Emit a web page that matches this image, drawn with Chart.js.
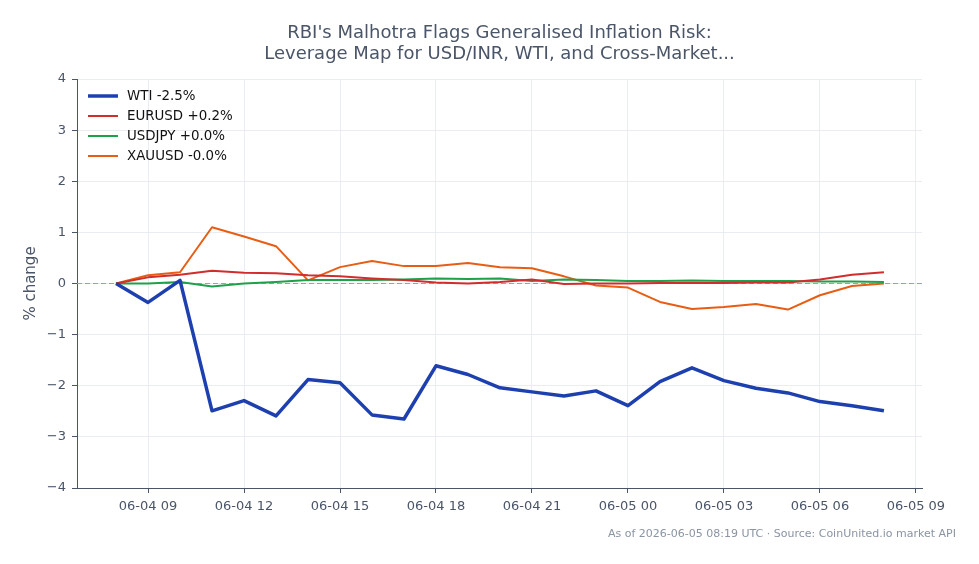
<!DOCTYPE html>
<html>
<head>
<meta charset="utf-8">
<script src="https://cdn.jsdelivr.net/npm/chart.js@4"></script>
<style>
  html, body { margin: 0; padding: 0; background: #ffffff; }
  #wrap { width: 979px; height: 564px; }
</style>
</head>
<body>
<div id="wrap"><canvas id="chart" width="979" height="564"></canvas></div>
<script>
// hours since 06-04 00:00 UTC
var hours = [8, 9, 10, 11, 12, 13, 14, 15, 16, 17, 18, 19, 20, 21, 22, 23, 24, 25, 26, 27, 28, 29, 30, 31, 32];
var tickHours = [9, 12, 15, 18, 21, 24, 27, 30, 33];
var yTicks = [-4, -3, -2, -1, 0, 1, 2, 3, 4];

var wti    = [0, -0.37, 0.06, -2.49, -2.29, -2.59, -1.88, -1.94, -2.57, -2.65, -1.61, -1.78, -2.04, -2.12, -2.2, -2.1, -2.39, -1.92, -1.65, -1.9, -2.05, -2.14, -2.31, -2.39, -2.49];
var eurusd = [0, 0.12, 0.17, 0.25, 0.21, 0.2, 0.16, 0.14, 0.1, 0.07, 0.02, 0.0, 0.03, 0.08, -0.01, 0.0, 0.0, 0.01, 0.01, 0.01, 0.02, 0.02, 0.08, 0.17, 0.22];
var usdjpy = [0, 0.0, 0.03, -0.06, 0.0, 0.03, 0.07, 0.07, 0.07, 0.08, 0.1, 0.09, 0.1, 0.05, 0.08, 0.07, 0.05, 0.05, 0.06, 0.05, 0.05, 0.05, 0.04, 0.04, 0.03];
var xauusd = [0, 0.16, 0.22, 1.1, 0.92, 0.73, 0.06, 0.32, 0.44, 0.34, 0.34, 0.4, 0.32, 0.3, 0.14, -0.04, -0.08, -0.36, -0.5, -0.46, -0.4, -0.51, -0.23, -0.05, 0.0];

var seriesNames = ['WTI -2.5%', 'EURUSD +0.2%', 'USDJPY +0.0%', 'XAUUSD -0.0%'];
var titleLines = ["RBI's Malhotra Flags Generalised Inflation Risk:", "Leverage Map for USD/INR, WTI, and Cross-Market..."];
var footerText = 'As of 2026-06-05 08:19 UTC \u00b7 Source: CoinUnited.io market API';

var FONT = "'DejaVu Sans', sans-serif";
var TEXT = '#4a5568';

function pts(vals) {
  return vals.map(function (v, i) { return { x: hours[i], y: v }; });
}

function hourLabel(h) {
  var day = 4 + Math.floor(h / 24);
  var hh = h % 24;
  return '06-0' + day + ' ' + (hh < 10 ? '0' + hh : hh);
}

var decor = {
  id: 'decor',
  beforeDatasetsDraw: function (chart) {
    var ctx = chart.ctx, a = chart.chartArea, y0 = chart.scales.y.getPixelForValue(0);
    ctx.save();
    ctx.strokeStyle = '#94a3b8';
    ctx.lineWidth = 1;
    ctx.setLineDash([5, 3]);
    ctx.beginPath();
    ctx.moveTo(a.left, y0);
    ctx.lineTo(a.right, y0);
    ctx.stroke();
    ctx.restore();
  },
  afterDraw: function (chart) {
    var ctx = chart.ctx, a = chart.chartArea;
    ctx.save();
    // title
    ctx.fillStyle = TEXT;
    ctx.font = '18px ' + FONT;
    ctx.textAlign = 'center';
    ctx.textBaseline = 'middle';
    var cx = (a.left + a.right) / 2;
    ctx.fillText(titleLines[0], cx, 33);
    ctx.fillText(titleLines[1], cx, 54);
    // footer
    ctx.fillStyle = '#8a94a3';
    ctx.font = '11px ' + FONT;
    ctx.textAlign = 'right';
    ctx.fillText(footerText, 956, 534);
    // legend inside plot
    ctx.textAlign = 'left';
    ctx.font = '13.4px ' + FONT;
    chart.data.datasets.forEach(function (ds, i) {
      var y = 96 + i * 20;
      ctx.strokeStyle = ds.borderColor;
      ctx.lineWidth = ds.borderWidth;
      ctx.beginPath();
      ctx.moveTo(a.left + 11, y);
      ctx.lineTo(a.left + 41, y);
      ctx.stroke();
      ctx.fillStyle = '#111111';
      ctx.fillText(ds.label, a.left + 50, y + 1);
    });
    ctx.restore();
  }
};

var chart = new Chart(document.getElementById('chart').getContext('2d'), {
  type: 'line',
  data: {
    datasets: [
      { label: seriesNames[0], data: pts(wti), borderColor: '#1e40af', borderWidth: 3.5 },
      { label: seriesNames[1], data: pts(eurusd), borderColor: '#d12d2d', borderWidth: 2 },
      { label: seriesNames[2], data: pts(usdjpy), borderColor: '#1fa04a', borderWidth: 2 },
      { label: seriesNames[3], data: pts(xauusd), borderColor: '#e85d14', borderWidth: 2 }
    ].map(function (d) {
      d.fill = false;
      d.tension = 0;
      d.pointRadius = 0;
      d.borderJoinStyle = 'round';
      return d;
    }).reverse()
  },
  plugins: [decor],
  options: {
    responsive: false,
    animation: false,
    layout: { padding: { left: 0, right: 57, top: 79, bottom: 0 } },
    plugins: {
      legend: { display: false },
      title: { display: false },
      tooltip: { enabled: false }
    },
    scales: {
      x: {
        type: 'linear',
        min: 6.78,
        max: 33.19,
        afterFit: function (s) { s.height = 76; },
        afterBuildTicks: function (s) { s.ticks = tickHours.map(function (h) { return { value: h }; }); },
        border: { color: TEXT, width: 1 },
        grid: { color: '#e9edf2', tickColor: TEXT, tickLength: 5 },
        ticks: {
          color: TEXT, padding: 6, maxRotation: 0,
          font: { family: FONT, size: 13 },
          callback: function (v) { return hourLabel(v); }
        }
      },
      y: {
        min: -4,
        max: 4,
        afterFit: function (s) { s.width = 77; },
        afterBuildTicks: function (s) { s.ticks = yTicks.map(function (v) { return { value: v }; }); },
        border: { color: TEXT, width: 1 },
        grid: { color: '#e9edf2', tickColor: TEXT, tickLength: 5 },
        title: {
          display: true, text: '% change', color: TEXT,
          font: { family: FONT, size: 15 },
          padding: { top: 22, bottom: 0 }
        },
        ticks: {
          color: TEXT, padding: 6,
          font: { family: FONT, size: 13 },
          callback: function (v) { return v < 0 ? '\u2212' + Math.abs(v) : String(v); }
        }
      }
    }
  }
});
// legend order follows the original (WTI first)
chart.data.datasets.reverse();
chart.update();
</script>
</body>
</html>
